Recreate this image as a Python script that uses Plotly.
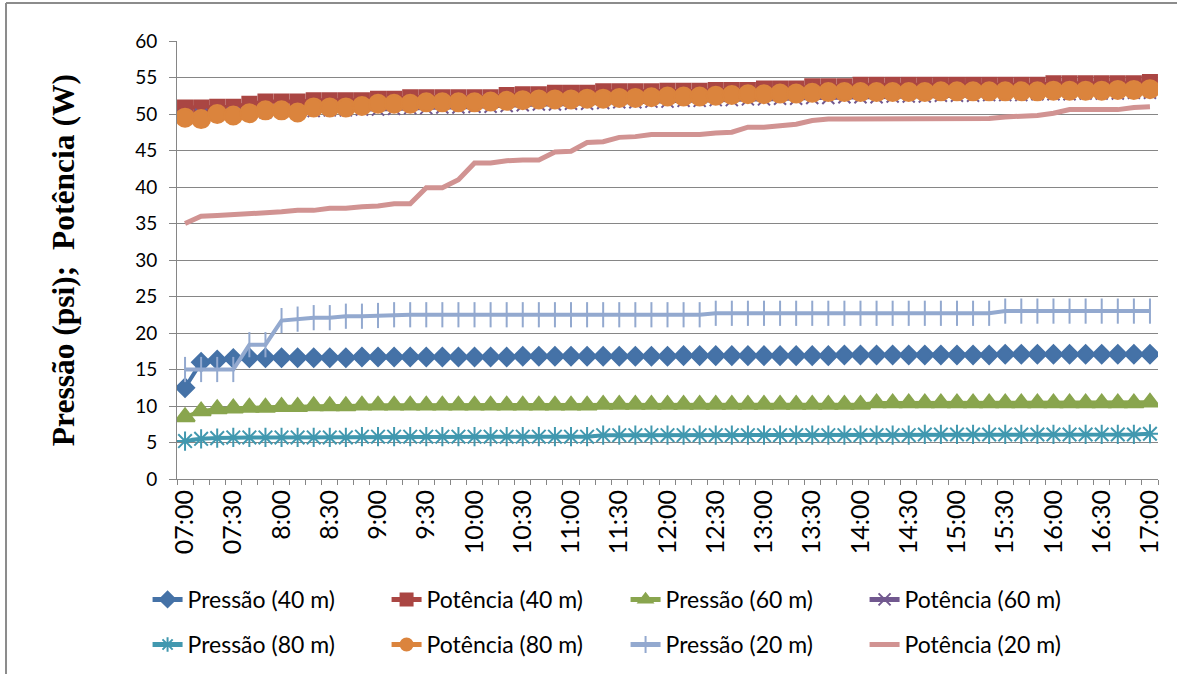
import plotly.graph_objects as go

# Time of day (one reading every 10 minutes)
times = [
    "07:00", "07:10", "07:20", "07:30", "07:40", "07:50",
    "8:00", "8:10", "8:20", "8:30", "8:40", "8:50",
    "9:00", "9:10", "9:20", "9:30", "9:40", "9:50",
    "10:00", "10:10", "10:20", "10:30", "10:40", "10:50",
    "11:00", "11:10", "11:20", "11:30", "11:40", "11:50",
    "12:00", "12:10", "12:20", "12:30", "12:40", "12:50",
    "13:00", "13:10", "13:20", "13:30", "13:40", "13:50",
    "14:00", "14:10", "14:20", "14:30", "14:40", "14:50",
    "15:00", "15:10", "15:20", "15:30", "15:40", "15:50",
    "16:00", "16:10", "16:20", "16:30", "16:40", "16:50",
    "17:00",
]

# Labels shown on the time axis (every 30 minutes)
x_tick_labels = [
    "07:00", "07:30", "8:00", "8:30", "9:00", "9:30", "10:00", "10:30",
    "11:00", "11:30", "12:00", "12:30", "13:00", "13:30", "14:00", "14:30",
    "15:00", "15:30", "16:00", "16:30", "17:00",
]

y_ticks = [0, 5, 10, 15, 20, 25, 30, 35, 40, 45, 50, 55, 60]

pressao_40 = [
    12.5, 16.0, 16.3, 16.5, 16.6, 16.6, 16.6, 16.6, 16.6, 16.6,
    16.6, 16.7, 16.7, 16.7, 16.7, 16.7, 16.7, 16.7, 16.7, 16.7,
    16.7, 16.8, 16.8, 16.8, 16.8, 16.8, 16.8, 16.8, 16.8, 16.8,
    16.8, 16.9, 16.9, 16.9, 16.9, 16.9, 16.9, 16.9, 16.9, 16.9,
    16.9, 17.0, 17.0, 17.0, 17.0, 17.0, 17.0, 17.0, 17.0, 17.0,
    17.0, 17.1, 17.1, 17.1, 17.1, 17.1, 17.1, 17.1, 17.1, 17.1,
    17.1,
]

potencia_40 = [
    50.9, 50.9, 51.0, 51.0, 51.4, 51.7, 51.7, 51.7, 51.9, 51.9,
    51.9, 51.9, 52.1, 52.1, 52.3, 52.3, 52.3, 52.3, 52.3, 52.3,
    52.6, 52.7, 52.7, 52.9, 52.9, 52.9, 53.1, 53.1, 53.1, 53.1,
    53.2, 53.2, 53.2, 53.3, 53.3, 53.3, 53.5, 53.5, 53.5, 53.8,
    53.8, 53.8, 54.0, 54.0, 54.0, 54.0, 54.0, 54.0, 54.0, 54.0,
    54.0, 54.0, 54.0, 54.0, 54.2, 54.2, 54.2, 54.2, 54.2, 54.2,
    54.4,
]

pressao_60 = [
    8.5, 9.3, 9.6, 9.7, 9.8, 9.8, 9.9, 9.9, 10.0, 10.0,
    10.0, 10.1, 10.1, 10.1, 10.1, 10.1, 10.1, 10.1, 10.1, 10.1,
    10.1, 10.1, 10.1, 10.1, 10.1, 10.1, 10.2, 10.2, 10.2, 10.2,
    10.2, 10.2, 10.2, 10.2, 10.2, 10.2, 10.2, 10.2, 10.2, 10.2,
    10.2, 10.2, 10.2, 10.4, 10.4, 10.4, 10.4, 10.4, 10.4, 10.4,
    10.4, 10.4, 10.4, 10.4, 10.4, 10.4, 10.4, 10.4, 10.4, 10.4,
    10.5,
]

potencia_60 = [
    49.8, 49.9, 50.0, 50.1, 50.2, 50.2, 50.3, 50.3, 50.4, 50.5,
    50.5, 50.6, 50.6, 50.7, 50.8, 50.8, 50.9, 50.9, 51.0, 51.0,
    51.1, 51.2, 51.3, 51.3, 51.4, 51.4, 51.5, 51.6, 51.6, 51.7,
    51.7, 51.8, 51.8, 51.9, 51.9, 52.0, 52.0, 52.1, 52.1, 52.2,
    52.2, 52.3, 52.3, 52.3, 52.4, 52.4, 52.4, 52.5, 52.5, 52.5,
    52.6, 52.6, 52.6, 52.7, 52.7, 52.7, 52.8, 52.8, 52.8, 52.9,
    52.9,
]

pressao_80 = [
    5.2, 5.5, 5.6, 5.7, 5.7, 5.7, 5.7, 5.7, 5.7, 5.7,
    5.7, 5.8, 5.8, 5.8, 5.8, 5.8, 5.8, 5.8, 5.8, 5.8,
    5.8, 5.8, 5.8, 5.8, 5.8, 5.8, 6.0, 6.0, 6.0, 6.0,
    6.0, 6.0, 6.0, 6.0, 6.0, 6.0, 6.0, 6.0, 6.0, 6.0,
    6.0, 6.0, 6.0, 6.0, 6.0, 6.0, 6.1, 6.1, 6.1, 6.1,
    6.1, 6.1, 6.1, 6.1, 6.1, 6.1, 6.1, 6.1, 6.1, 6.1,
    6.2,
]

potencia_80 = [
    49.5, 49.3, 50.0, 49.8, 50.1, 50.5, 50.5, 50.2, 50.9, 50.9,
    50.9, 51.1, 51.4, 51.4, 51.4, 51.6, 51.6, 51.6, 51.6, 51.7,
    51.8, 51.9, 52.0, 52.0, 52.0, 52.1, 52.1, 52.2, 52.2, 52.3,
    52.4, 52.4, 52.4, 52.5, 52.6, 52.7, 52.7, 52.8, 52.8, 52.9,
    53.0, 53.0, 53.0, 53.0, 53.0, 53.0, 53.0, 53.1, 53.1, 53.1,
    53.1, 53.1, 53.1, 53.1, 53.2, 53.2, 53.2, 53.2, 53.3, 53.3,
    53.4,
]

pressao_20 = [
    15.0, 15.0, 15.0, 15.0, 18.4, 18.4, 21.7, 21.9, 22.1, 22.1,
    22.3, 22.3, 22.4, 22.5, 22.5, 22.5, 22.5, 22.5, 22.5, 22.5,
    22.5, 22.5, 22.5, 22.5, 22.5, 22.5, 22.5, 22.5, 22.5, 22.5,
    22.5, 22.5, 22.5, 22.7, 22.7, 22.7, 22.7, 22.7, 22.7, 22.7,
    22.7, 22.7, 22.7, 22.7, 22.7, 22.7, 22.7, 22.7, 22.7, 22.7,
    22.7, 23.0, 23.0, 23.0, 23.0, 23.0, 23.0, 23.0, 23.0, 23.0,
    23.0,
]

potencia_20 = [
    35.0, 36.0, 36.1, 36.2, 36.3, 36.5, 36.6, 36.8, 36.8, 37.1,
    37.1, 37.3, 37.4, 37.7, 37.7, 39.9, 39.9, 41.0, 43.3, 43.3,
    43.6, 43.7, 43.7, 44.8, 44.9, 46.1, 46.2, 46.8, 46.9, 47.2,
    47.2, 47.2, 47.2, 47.4, 47.5, 48.2, 48.2, 48.4, 48.6, 49.1,
    49.3, 49.3, 49.3, 49.3, 49.4, 49.4, 49.4, 49.4, 49.4, 49.4,
    49.4, 49.6, 49.7, 49.8, 50.1, 50.6, 50.6, 50.6, 50.6, 50.9,
    51.0,
]

# (name, values, colour, marker symbol, marker size, line width, legend row)
series = [
    ("Pressão (40 m)", pressao_40, "#4572A7", "diamond", 14, 4, "legend"),
    ("Potência (40 m)", potencia_40, "#AA4643", "square", 14, 4, "legend"),
    ("Pressão (60 m)", pressao_60, "#89A54E", "triangle-up", 17, 4, "legend"),
    ("Potência (60 m)", potencia_60, "#71588F", "x-thin-open", 12, 4, "legend"),
    ("Pressão (80 m)", pressao_80, "#4198AF", "asterisk-open", 16, 4, "legend2"),
    ("Potência (80 m)", potencia_80, "#DB843D", "circle", 18, 4, "legend2"),
    ("Pressão (20 m)", pressao_20, "#93A9CF", "line-ns-open", 18, 4, "legend2"),
    ("Potência (20 m)", potencia_20, "#D19392", None, 0, 5, "legend2"),
]

fig = go.Figure()
for name, values, color, symbol, size, lw, leg in series:
    if symbol is None:
        mode = "lines"
        marker = None
    else:
        mode = "lines+markers"
        marker = dict(symbol=symbol, size=size, color=color,
                      line=dict(color=color, width=2))
    fig.add_trace(go.Scatter(
        x=times, y=values, name=name, mode=mode,
        line=dict(color=color, width=lw),
        marker=marker, legend=leg,
    ))

axis_grey = "#868686"
tick_text = [t if t in x_tick_labels else "" for t in times]

fig.update_xaxes(
    type="category",
    range=[-0.5, len(times) - 0.5],
    tickmode="array", tickvals=times, ticktext=tick_text,
    tickson="boundaries", ticks="outside", ticklen=5, tickcolor=axis_grey,
    tickangle=-90,
    tickfont=dict(family="Lato", size=25, color="black"),
    showline=True, linecolor=axis_grey, linewidth=1,
    showgrid=False, zeroline=False,
)
fig.update_yaxes(
    range=[0, 60], tickmode="array", tickvals=y_ticks,
    ticks="outside", ticklen=7, tickcolor=axis_grey,
    ticklabelstandoff=8,
    tickfont=dict(family="Lato", size=19, color="black"),
    showline=True, linecolor=axis_grey, linewidth=1,
    showgrid=True, gridcolor=axis_grey, gridwidth=1, zeroline=False,
)

legend_common = dict(
    orientation="h", xanchor="left", yanchor="middle",
    font=dict(family="Lato", size=23, color="black"),
    entrywidth=194, entrywidthmode="pixels",
    bgcolor="rgba(0,0,0,0)", itemsizing="constant",
    traceorder="normal",
)

fig.update_layout(
    width=1177, height=674,
    margin=dict(l=177, r=19, t=41, b=194.5, autoexpand=False),
    paper_bgcolor="white", plot_bgcolor="white",
    legend=dict(x=-0.03, y=-0.275, **legend_common),
    legend2=dict(x=-0.03, y=-0.378, **legend_common),
    annotations=[dict(
        text="Pressão (psi);\u00a0 Potência (W)",
        xref="paper", yref="paper", x=-0.116, y=0.5,
        xanchor="center", yanchor="middle", textangle=-90,
        showarrow=False,
        font=dict(family="Liberation Serif", size=31.5, color="black",
                  weight="bold"),
    )],
    shapes=[
        # outer chart frame (left and top edges)
        dict(type="line", xref="paper", yref="paper",
             x0=-0.1743, x1=-0.1743, y0=1.087, y1=-0.45,
             line=dict(color="#8c8c8c", width=2)),
        dict(type="line", xref="paper", yref="paper",
             x0=-0.1743, x1=1.02, y0=1.087, y1=1.087,
             line=dict(color="#8c8c8c", width=2)),
    ],
    showlegend=True,
)

fig.write_html("out.html")
